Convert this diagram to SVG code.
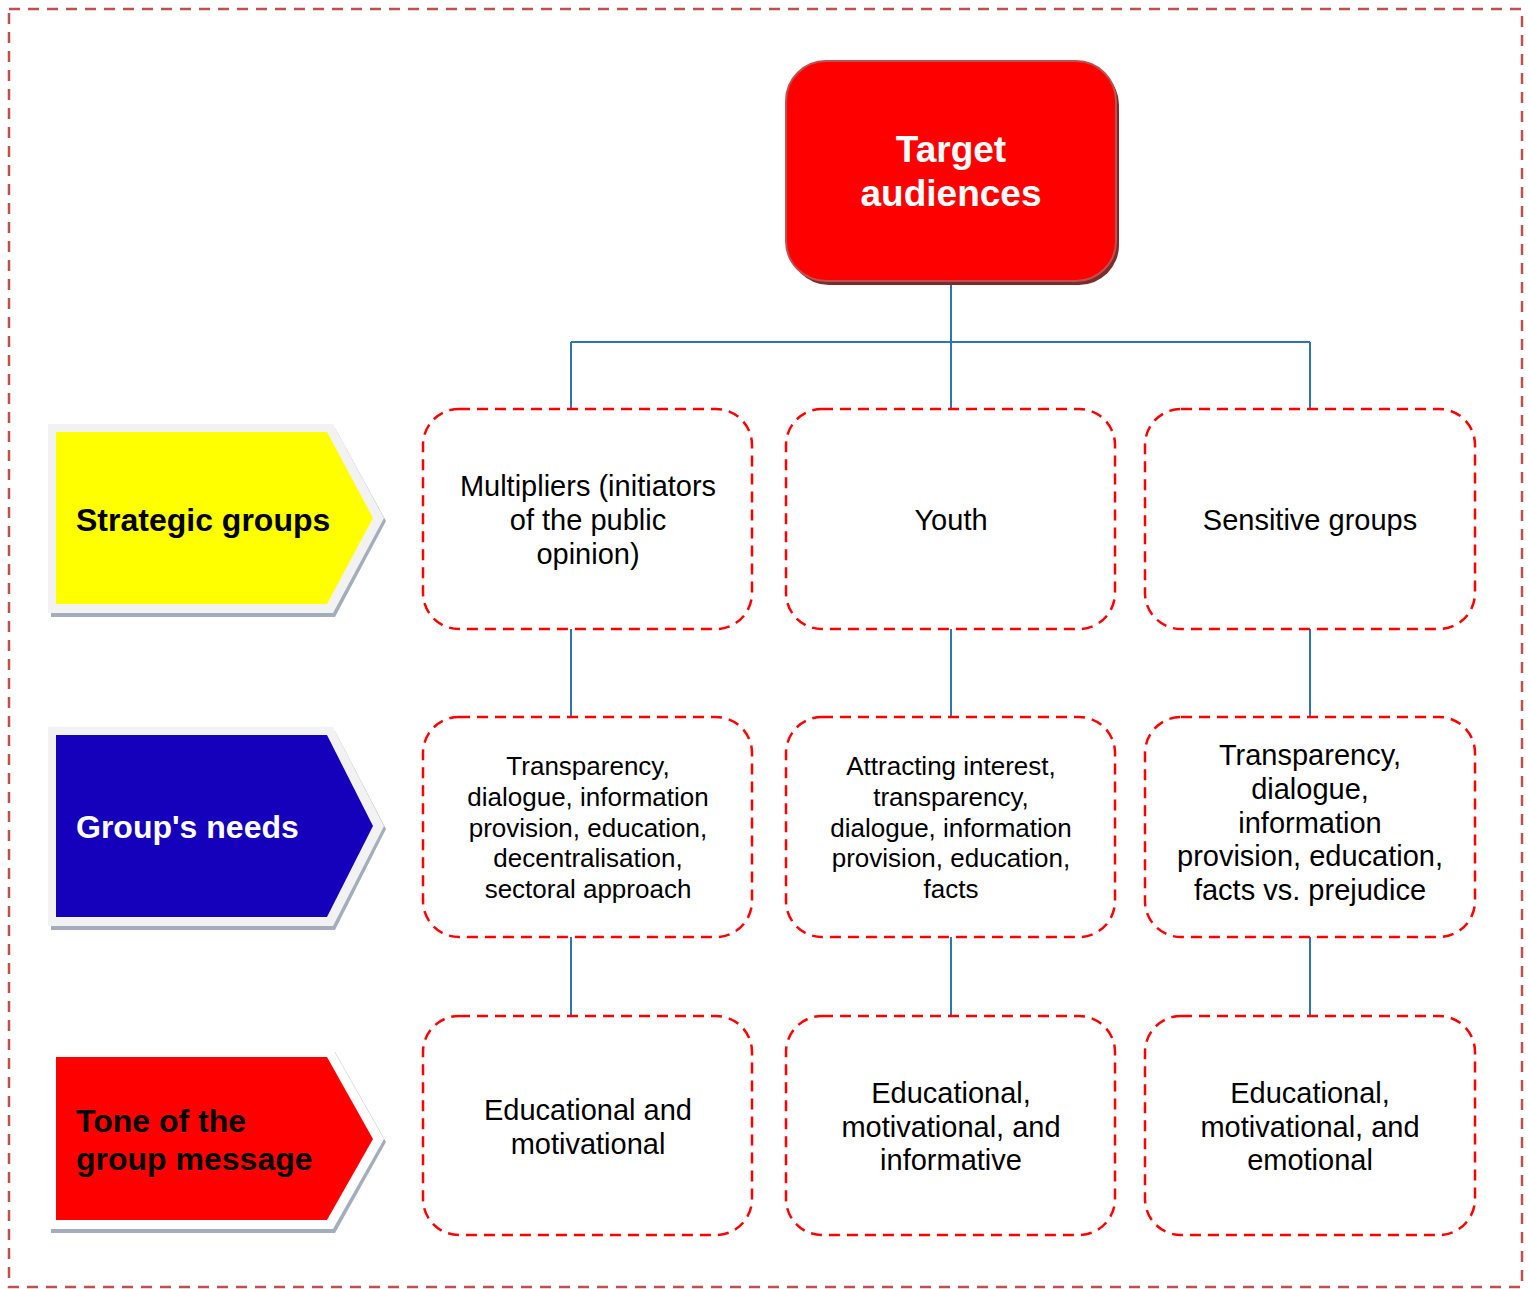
<svg xmlns="http://www.w3.org/2000/svg" width="1530" height="1289" viewBox="0 0 1530 1289">
<style>
.frame{fill:none;stroke:#c0504d;stroke-width:2.5;stroke-dasharray:11 8}
.box{fill:#fff;stroke:#ff0000;stroke-width:2.5;stroke-dasharray:11 7}
.conn{fill:none;stroke:#2e75b6;stroke-width:2}
.t{font-family:"Liberation Sans",Arial,sans-serif;text-anchor:middle;fill:#000}
.t29{font-size:29px}
.t26{font-size:26px}
.lbl{font-family:"Liberation Sans",Arial,sans-serif;font-weight:bold;font-size:32px}
.shadow{fill:#a3adbb}
.rim{fill:#f2f2f2}
</style>
<rect x="0" y="0" width="1530" height="1289" fill="#fff"/>
<rect class="frame" x="9" y="9" width="1513" height="1278"/>

<g id="connectors">
<path class="conn" d="M951 283V342M571 342H1310M571 342V408M951 342V408M1310 342V408"/>
<path class="conn" d="M571 629V716M951 629V716M1310 629V716"/>
<path class="conn" d="M571 937V1015M951 937V1015M1310 937V1015"/>
</g>

<g id="target">
<rect x="789" y="65" width="330" height="220" rx="40" fill="#7b2c2c"/>
<rect x="786" y="61" width="330" height="220" rx="40" fill="#ff0000" stroke="#c0504d" stroke-width="2"/>
<text class="t" x="951" y="162" font-size="37" font-weight="bold" style="fill:#fff">Target</text>
<text class="t" x="951" y="206" font-size="37" font-weight="bold" style="fill:#fff">audiences</text>
</g>

<g id="lbl-strategic">
<polygon class="shadow" points="51,428 335,428 386,521 335,617 51,617"/>
<polygon class="rim" points="48,424 333,424 384,518 333,613 48,613"/>
<polygon points="56,432 327,432 373,518 327,604 56,604" fill="#ffff00"/>
<text class="lbl" x="76" y="531" fill="#000">Strategic groups</text>
</g>

<g id="lbl-needs">
<polygon class="shadow" points="51,731 335,731 386,829 335,930 51,930"/>
<polygon class="rim" points="48,727 333,727 384,826 333,926 48,926"/>
<polygon points="56,735 327,735 373,826 327,917 56,917" fill="#1500bb"/>
<text class="lbl" x="76" y="838" fill="#fff">Group's needs</text>
</g>

<g id="lbl-tone">
<polygon class="shadow" points="51,1052 335,1052 386,1142 335,1233 51,1233"/>
<polygon points="48,1049 333,1049 384,1139 333,1229 48,1229" fill="#fff"/>
<polygon points="56,1057 327,1057 373,1139 327,1220 56,1220" fill="#ff0000"/>
<text class="lbl" x="76" y="1132" fill="#000">Tone of the</text>
<text class="lbl" x="76" y="1170" fill="#000">group message</text>
</g>

<g id="n-multipliers">
<rect class="box" x="423" y="409" width="329" height="220" rx="36"/>
<text class="t t29" x="588" y="496">Multipliers (initiators</text>
<text class="t t29" x="588" y="530">of the public</text>
<text class="t t29" x="588" y="564">opinion)</text>
</g>
<g id="n-youth">
<rect class="box" x="786" y="409" width="329" height="220" rx="36"/>
<text class="t t29" x="951" y="530">Youth</text>
</g>
<g id="n-sensitive">
<rect class="box" x="1145" y="409" width="330" height="220" rx="36"/>
<text class="t t29" x="1310" y="530">Sensitive groups</text>
</g>

<g id="n-needs1">
<rect class="box" x="423" y="717" width="329" height="220" rx="36"/>
<text class="t t26" x="588" y="775">Transparency,</text>
<text class="t t26" x="588" y="806">dialogue, information</text>
<text class="t t26" x="588" y="837">provision, education,</text>
<text class="t t26" x="588" y="867">decentralisation,</text>
<text class="t t26" x="588" y="898">sectoral approach</text>
</g>
<g id="n-needs2">
<rect class="box" x="786" y="717" width="329" height="220" rx="36"/>
<text class="t t26" x="951" y="775">Attracting interest,</text>
<text class="t t26" x="951" y="806">transparency,</text>
<text class="t t26" x="951" y="837">dialogue, information</text>
<text class="t t26" x="951" y="867">provision, education,</text>
<text class="t t26" x="951" y="898">facts</text>
</g>
<g id="n-needs3">
<rect class="box" x="1145" y="717" width="330" height="220" rx="36"/>
<text class="t t29" x="1310" y="765">Transparency,</text>
<text class="t t29" x="1310" y="799">dialogue,</text>
<text class="t t29" x="1310" y="833">information</text>
<text class="t t29" x="1310" y="866">provision, education,</text>
<text class="t t29" x="1310" y="900">facts vs. prejudice</text>
</g>

<g id="n-tone1">
<rect class="box" x="423" y="1016" width="329" height="219" rx="36"/>
<text class="t t29" x="588" y="1120">Educational and</text>
<text class="t t29" x="588" y="1154">motivational</text>
</g>
<g id="n-tone2">
<rect class="box" x="786" y="1016" width="329" height="219" rx="36"/>
<text class="t t29" x="951" y="1103">Educational,</text>
<text class="t t29" x="951" y="1137">motivational, and</text>
<text class="t t29" x="951" y="1170">informative</text>
</g>
<g id="n-tone3">
<rect class="box" x="1145" y="1016" width="330" height="219" rx="36"/>
<text class="t t29" x="1310" y="1103">Educational,</text>
<text class="t t29" x="1310" y="1137">motivational, and</text>
<text class="t t29" x="1310" y="1170">emotional</text>
</g>
</svg>
